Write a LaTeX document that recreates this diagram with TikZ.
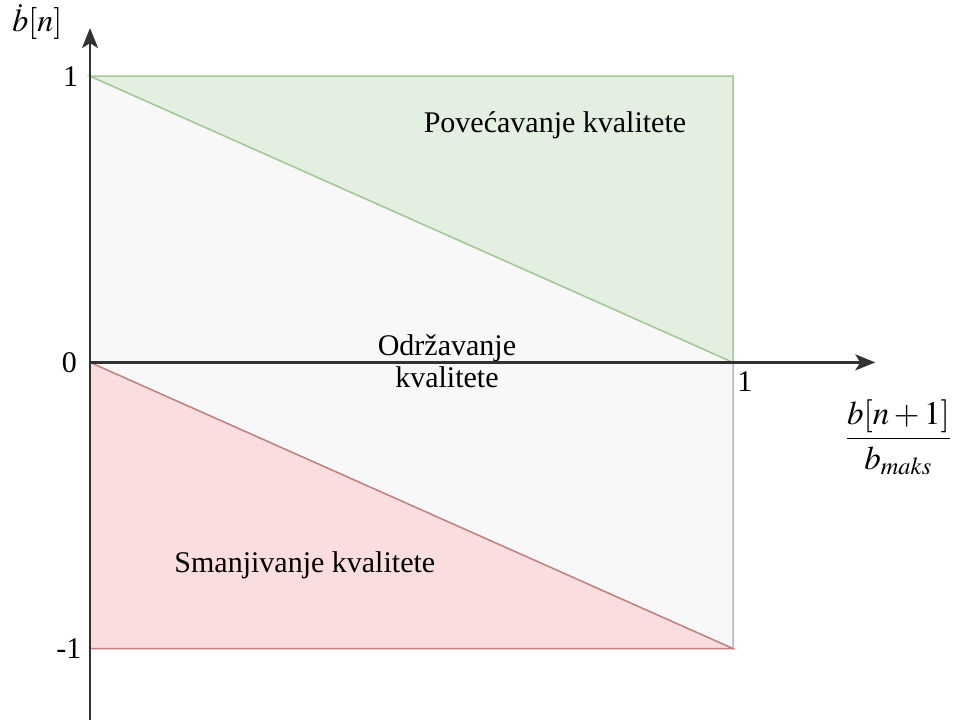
\documentclass[tikz,border=0pt]{standalone}
\usepackage{mathptmx}
\usepackage{fontspec}
\setmainfont{Liberation Serif}
\usepackage{amsmath}
\usetikzlibrary{arrows.meta}

\definecolor{greenfill}{RGB}{227,239,225}
\definecolor{greenline}{RGB}{160,200,145}
\definecolor{grayfill}{RGB}{248,248,248}
\definecolor{grayline}{RGB}{185,185,185}
\definecolor{redfill}{RGB}{250,221,221}
\definecolor{redline}{RGB}{195,125,122}
\definecolor{axisgray}{RGB}{50,50,50}

\begin{document}
\begin{tikzpicture}[x=11.30cm,y=5.03cm,
  axis/.style={draw=axisgray,line width=1.1pt,-{Stealth[length=10pt,width=8pt,inset=2.5pt]}},
  region/.style={line width=0.7pt},
  label text/.style={font=\fontsize{15}{17}\selectfont,inner sep=1pt},
  tick label/.style={font=\fontsize{15}{17}\selectfont,inner sep=0pt}]

  \useasboundingbox (-0.14,-1.248) rectangle (1.345,1.266);

  % regions
  \draw[region,fill=grayfill,draw=grayline] (0,1) -- (1,0) -- (1,-1) -- (0,0) -- cycle;
  \draw[region,fill=greenfill,draw=greenline] (0,1) -- (1,1) -- (1,0) -- cycle;
  \draw[region,fill=redfill,draw=redline] (0,0) -- (1,-1) -- (0,-1) -- cycle;

  % axes
  \coordinate (o) at (0,0);
  \coordinate (ybot) at (0,-1.248);
  \coordinate (ytop) at (0,1.168);
  \coordinate (xend) at (1.221,0);
  \draw[axis] (ybot) -- (ytop);
  \draw[axis] (o) -- (xend);

  % labels
  \node[tick label,anchor=east] (y1) at (-0.018,1) {1};
  \node[tick label,anchor=east] (y0) at (-0.02,0) {0};
  \node[tick label,anchor=east] (ym1) at (-0.013,-1) {-1};
  \node[tick label,anchor=north west] (x1) at (1.006,-0.03) {1};
  \node[label text,font=\fontsize{16}{18}\selectfont] (ylab) at (-0.082,1.19) {$\dot{b}[n]$};
  \node[label text,font=\fontsize{16.5}{18}\selectfont] (xlab) at (1.257,-0.262) {$\dfrac{b[n+1]}{b_{maks}}$};

  \node[label text] (inc) at (0.723,0.83) {Povećavanje kvalitete};
  \node[label text,align=center] (keep) at (0.555,0.005) {Održavanje\\[-1pt]kvalitete};
  \node[label text] (dec) at (0.334,-0.71) {Smanjivanje kvalitete};
\end{tikzpicture}
\end{document}
